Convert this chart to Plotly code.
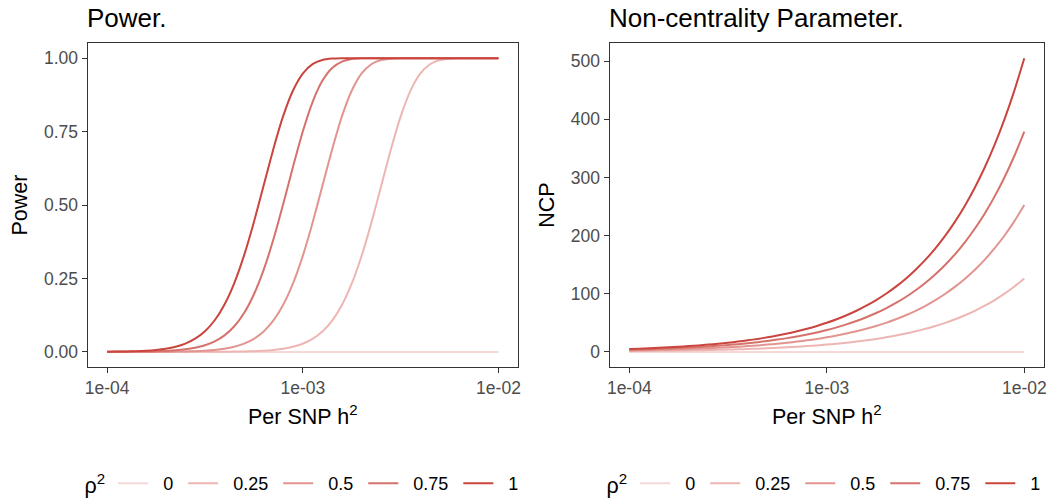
import plotly.graph_objects as go

# ---------------- data ----------------
h2 = [1.000e-4, 1.122e-4, 1.259e-4, 1.413e-4, 1.585e-4, 1.778e-4, 1.995e-4, 2.239e-4, 2.512e-4, 2.818e-4,
      3.162e-4, 3.548e-4, 3.981e-4, 4.467e-4, 5.012e-4, 5.623e-4, 6.310e-4, 7.079e-4, 7.943e-4, 8.913e-4,
      1.000e-3, 1.122e-3, 1.259e-3, 1.413e-3, 1.585e-3, 1.778e-3, 1.995e-3, 2.239e-3, 2.512e-3, 2.818e-3,
      3.162e-3, 3.548e-3, 3.981e-3, 4.467e-3, 5.012e-3, 5.623e-3, 6.310e-3, 7.079e-3, 7.943e-3, 8.913e-3,
      1.000e-2]

rho2_labels = ["0", "0.25", "0.5", "0.75", "1"]

power_rho0 = [0, 0, 0, 0, 0, 0, 0, 0, 0, 0, 0, 0, 0, 0, 0, 0, 0, 0, 0, 0,
              0, 0, 0, 0, 0, 0, 0, 0, 0, 0, 0, 0, 0, 0, 0, 0, 0, 0, 0, 0, 0]
power_rho025 = [0.000007, 0.00001, 0.000014, 0.000019, 0.000026, 0.000037, 0.00005, 0.00008, 0.00012, 0.00018,
                0.00027, 0.00041, 0.00064, 0.00101, 0.0016, 0.00256, 0.0041, 0.0067, 0.0108, 0.0173,
                0.0278, 0.0442, 0.0692, 0.1063, 0.1595, 0.2320, 0.3256, 0.4383, 0.5632, 0.6889,
                0.8012, 0.8888, 0.9471, 0.9792, 0.9935, 0.9984, 0.9997, 1.0, 1.0, 1.0, 1.0]
power_rho05 = [0.00005, 0.00008, 0.00012, 0.00018, 0.00027, 0.00041, 0.00065, 0.00102, 0.00161, 0.00258,
               0.00415, 0.0067, 0.0108, 0.0175, 0.0280, 0.0445, 0.0697, 0.1070, 0.1603, 0.2330,
               0.3268, 0.4396, 0.5645, 0.6898, 0.8019, 0.8892, 0.9472, 0.9792, 0.9935, 0.9984,
               0.9997, 1.0, 1.0, 1.0, 1.0, 1.0, 1.0, 1.0, 1.0, 1.0, 1.0]
power_rho075 = [0.00022, 0.00034, 0.00052, 0.00082, 0.00129, 0.00206, 0.0033, 0.0053, 0.0086, 0.0139,
                0.0224, 0.0357, 0.0563, 0.0873, 0.1324, 0.1955, 0.2791, 0.3832, 0.5035, 0.6302,
                0.7503, 0.8506, 0.9228, 0.9665, 0.9882, 0.9968, 0.9993, 1.0, 1.0, 1.0,
                1.0, 1.0, 1.0, 1.0, 1.0, 1.0, 1.0, 1.0, 1.0, 1.0, 1.0]
power_rho1 = [0.00065, 0.00103, 0.00163, 0.0026, 0.0042, 0.0068, 0.0109, 0.0176, 0.0283, 0.0449,
              0.0702, 0.1077, 0.1614, 0.2344, 0.3285, 0.4415, 0.5664, 0.6916, 0.8033, 0.8901,
              0.9477, 0.9795, 0.9936, 0.9985, 0.9997, 1.0, 1.0, 1.0, 1.0, 1.0,
              1.0, 1.0, 1.0, 1.0, 1.0, 1.0, 1.0, 1.0, 1.0, 1.0, 1.0]

ncp_rho0 = [0, 0, 0, 0, 0, 0, 0, 0, 0, 0, 0, 0, 0, 0, 0, 0, 0, 0, 0, 0,
            0, 0, 0, 0, 0, 0, 0, 0, 0, 0, 0, 0, 0, 0, 0, 0, 0, 0, 0, 0, 0]
ncp_rho025 = [1.25, 1.40, 1.57, 1.77, 1.98, 2.22, 2.49, 2.80, 3.14, 3.52,
              3.95, 4.44, 4.98, 5.59, 6.27, 7.03, 7.89, 8.86, 9.94, 11.15,
              12.51, 14.04, 15.76, 17.68, 19.84, 22.27, 24.99, 28.05, 31.48, 35.33,
              39.65, 44.51, 49.96, 56.09, 62.96, 70.69, 79.37, 89.13, 100.09, 112.41, 126.26]
ncp_rho05 = [2.50, 2.81, 3.15, 3.53, 3.96, 4.45, 4.99, 5.60, 6.28, 7.05,
             7.91, 8.87, 9.96, 11.17, 12.54, 14.07, 15.78, 17.71, 19.88, 22.30,
             25.03, 28.08, 31.51, 35.36, 39.69, 44.54, 49.98, 56.09, 62.96, 70.66,
             79.31, 89.02, 99.93, 112.17, 125.93, 141.38, 158.74, 178.25, 200.17, 224.82, 252.53]
ncp_rho075 = [3.75, 4.21, 4.72, 5.30, 5.94, 6.67, 7.48, 8.40, 9.42, 10.57,
              11.86, 13.31, 14.93, 16.76, 18.80, 21.10, 23.68, 26.57, 29.81, 33.45,
              37.54, 42.12, 47.27, 53.04, 59.53, 66.80, 74.97, 84.14, 94.43, 105.99,
              118.96, 133.53, 149.89, 168.26, 188.89, 212.07, 238.11, 267.38, 300.26, 337.22, 378.79]
ncp_rho1 = [5.00, 5.61, 6.30, 7.06, 7.93, 8.89, 9.98, 11.20, 12.56, 14.10,
            15.82, 17.75, 19.91, 22.34, 25.07, 28.13, 31.57, 35.42, 39.75, 44.60,
            50.05, 56.16, 63.03, 70.73, 79.37, 89.07, 99.96, 112.19, 125.91, 141.32,
            158.62, 178.04, 199.85, 224.34, 251.86, 282.76, 317.49, 356.50, 400.35, 449.63, 505.05]

x_tick_vals = [1e-4, 1e-3, 1e-2]
x_tick_text = ["1e-04", "1e-03", "1e-02"]
power_tick_vals = [0, 0.25, 0.5, 0.75, 1]
power_tick_text = ["0.00", "0.25", "0.50", "0.75", "1.00"]
ncp_tick_vals = [0, 100, 200, 300, 400, 500]
ncp_tick_text = ["0", "100", "200", "300", "400", "500"]

power_series = [power_rho0, power_rho025, power_rho05, power_rho075, power_rho1]
ncp_series = [ncp_rho0, ncp_rho025, ncp_rho05, ncp_rho075, ncp_rho1]

# ---------------- style ----------------
colors = ["#F5D9D8", "#EDB6B3", "#E29590", "#D6716B", "#C9453D"]
FONT = "Liberation Sans, Arial, Helvetica, sans-serif"
W, H = 1055, 503
NB = "\u00a0"


def legend_name(lab):
    # non-breaking spaces only widen the gaps around the legend label
    return NB + NB + lab + NB


fig = go.Figure()
for lab, ys, c in zip(rho2_labels, power_series, colors):
    fig.add_trace(go.Scatter(x=h2, y=ys, mode="lines", name=legend_name(lab),
                             line=dict(color=c, width=2, shape="spline", smoothing=0.6),
                             xaxis="x", yaxis="y", legend="legend"))
for lab, ys, c in zip(rho2_labels, ncp_series, colors):
    fig.add_trace(go.Scatter(x=h2, y=ys, mode="lines", name=legend_name(lab),
                             line=dict(color=c, width=2, shape="spline", smoothing=0.6),
                             xaxis="x2", yaxis="y2", legend="legend2"))

axis_common = dict(showline=True, mirror=True, linecolor="#333333", linewidth=1,
                   ticks="outside", ticklen=5, tickwidth=1, tickcolor="#333333",
                   tickfont=dict(size=17.5, color="#4D4D4D", family=FONT),
                   showgrid=False, zeroline=False)

ybot = 1 - 371 / H
ytop = 1 - 44 / H

legend_common = dict(orientation="h", xanchor="left", y=1 - 490 / H, yanchor="middle",
                     font=dict(size=18, color="black"), bgcolor="rgba(0,0,0,0)",
                     title=dict(text="ρ<sup>2</sup>", font=dict(size=21.5), side="left"),
                     itemwidth=30, traceorder="normal")

fig.update_layout(
    width=W, height=H,
    margin=dict(l=0, r=0, t=0, b=0),
    paper_bgcolor="white", plot_bgcolor="white",
    font=dict(family=FONT, color="black"),
    xaxis=dict(domain=[85 / W, 518 / W], type="log", range=[-4.1, -1.9],
               tickvals=x_tick_vals, ticktext=x_tick_text, anchor="y",
               title=dict(text="Per SNP h<sup>2</sup>", font=dict(size=21.5, color="black"), standoff=12),
               **axis_common),
    yaxis=dict(domain=[ybot, ytop], range=[-0.05, 1.05], anchor="x",
               tickvals=power_tick_vals, ticktext=power_tick_text,
               title=dict(text="Power", font=dict(size=21.5, color="black"), standoff=10),
               **axis_common),
    xaxis2=dict(domain=[610 / W, 1047 / W], type="log", range=[-4.1, -1.9],
                tickvals=x_tick_vals, ticktext=x_tick_text, anchor="y2",
                title=dict(text="Per SNP h<sup>2</sup>", font=dict(size=21.5, color="black"), standoff=12),
                **axis_common),
    yaxis2=dict(domain=[ybot, ytop], range=[-25.25, 530.3], anchor="x2",
                tickvals=ncp_tick_vals, ticktext=ncp_tick_text,
                title=dict(text="NCP", font=dict(size=21.5, color="black"), standoff=10),
                **axis_common),
    legend=dict(x=80 / W, **legend_common),
    legend2=dict(x=605 / W, **legend_common),
    annotations=[
        dict(text="Power.", x=82 / W, y=1 - 18 / H, xref="paper", yref="paper",
             xanchor="left", yanchor="middle", showarrow=False,
             font=dict(size=26, color="black")),
        dict(text="Non-centrality Parameter.", x=607 / W, y=1 - 18 / H, xref="paper", yref="paper",
             xanchor="left", yanchor="middle", showarrow=False,
             font=dict(size=26, color="black")),
    ],
)

fig.write_html("out.html")
